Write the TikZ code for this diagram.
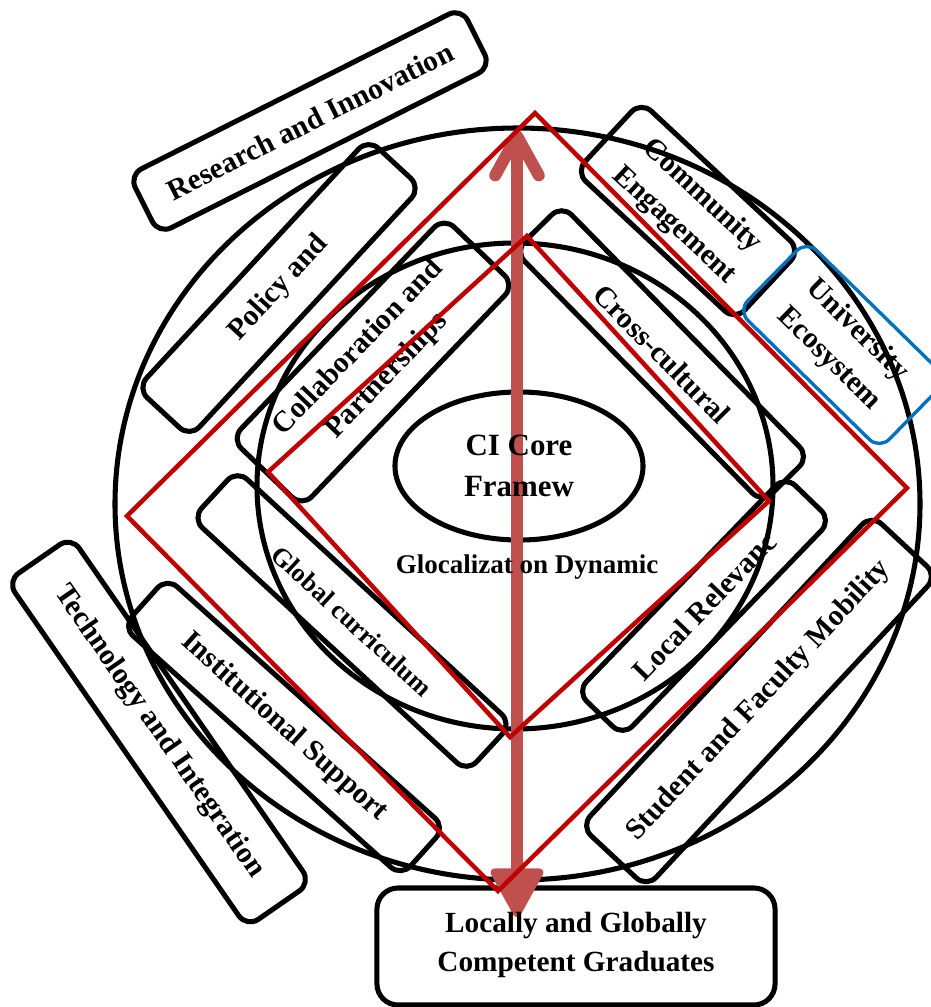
\documentclass[tikz,border=0pt]{standalone}
\usepackage{fontspec}
\setmainfont{Liberation Serif}
\usetikzlibrary{shapes.geometric,arrows.meta}

\definecolor{diamred}{HTML}{C00000}
\definecolor{flowred}{HTML}{C0504D}
\definecolor{ecoblue}{HTML}{0070C0}

\tikzset{
  ring/.style={draw, line width=3.6pt, inner sep=0pt},
  pill/.style={draw, line width=3.6pt, rounded corners=10pt, inner sep=0pt, align=center,
    font=\fontsize{21}{28.5}\selectfont\bfseries},
  diam/.style={draw=diamred, line width=3.2pt, line join=miter},
  flow/.style={draw=flowred, line width=8.5pt,
    {Straight Barb[round,length=28pt,width=31pt]}-{Triangle[round,length=38pt,width=40pt,line width=6pt]}},
  txt/.style={align=center, inner sep=0pt}
}

\begin{document}
\begin{tikzpicture}[x=0.025cm,y=-0.025cm]
\useasboundingbox (0,0) rectangle (931,1007);

\draw[ring] (517.5,504) ellipse [x radius=402.5, y radius=376];
\draw[ring] (515,486) ellipse [x radius=258, y radius=243];
\node[ring, ellipse, minimum width=6.2cm, minimum height=3.7cm] (core) at (519,466) {};

\node[pill, rotate=26.7, minimum width=9.3cm, minimum height=1.65cm] (research) at (310,121) {Research and Innovation};
\node[pill, rotate=47.2, minimum width=8.5cm, minimum height=1.8cm] (policy) at (279,288) {Policy and};
\node[pill, rotate=46.2, minimum width=7.675cm, minimum height=2.45cm] (collab) at (373,362) {Collaboration and\\Partnerships};
\node[pill, rotate=-45.5, minimum width=8.825cm, minimum height=1.65cm] (cross) at (662,354) {Cross-cultural};
\node[pill, rotate=-43, minimum width=5.45cm, minimum height=2.4cm] (community) at (688,211) {Community\\Engagement};
\node[pill, draw=ecoblue, line width=2.4pt, rotate=-44.4, minimum width=4.95cm, minimum height=2.45cm] (eco) at (843,345) {University\\Ecosystem};
\node[pill, rotate=46, minimum width=7.5cm, minimum height=1.6cm] (local) at (704,606) {Local Relevanc};
\node[pill, rotate=-42.7, minimum width=9.35cm, minimum height=1.65cm, font=\fontsize{18.5}{25}\selectfont\bfseries] (global) at (352,621) {Global curriculum};
\node[pill, rotate=-41.9, minimum width=9.35cm, minimum height=1.65cm] (inst) at (284,727) {Institutional Support};
\node[pill, rotate=-55.3, minimum width=10.525cm, minimum height=1.95cm] (tech) at (159,732) {Technology and Integration};
\node[pill, rotate=47, minimum width=10.65cm, minimum height=2.25cm] (mobility) at (759,701) {Student and Faculty Mobility};
\node[ring, rounded corners=15pt, minimum width=9.95cm, minimum height=2.925cm] (grad) at (576,946.5) {};

\coordinate (flowtop) at (517,130);
\coordinate (flowbot) at (517,917);
\draw[flow] (flowtop) -- (flowbot);

\draw[diam] (535,113) -- (907,488) -- (498,891) -- (127,516) -- cycle;
\draw[diam] (527,236) -- (769,501) -- (510,737) -- (268,472) -- cycle;

\node[txt, font=\fontsize{22}{29}\selectfont\bfseries] (coretxt) at (core.center) {CI Core\\Framew};
\node[txt, font=\fontsize{19.2}{26}\selectfont\bfseries] (glocal) at (527,567) {Glocalizat on Dynamic};
\node[txt, font=\fontsize{20.8}{27.7}\selectfont\bfseries] (gradtxt) at (576,945) {Locally and Globally\\Competent Graduates};
\end{tikzpicture}
\end{document}
